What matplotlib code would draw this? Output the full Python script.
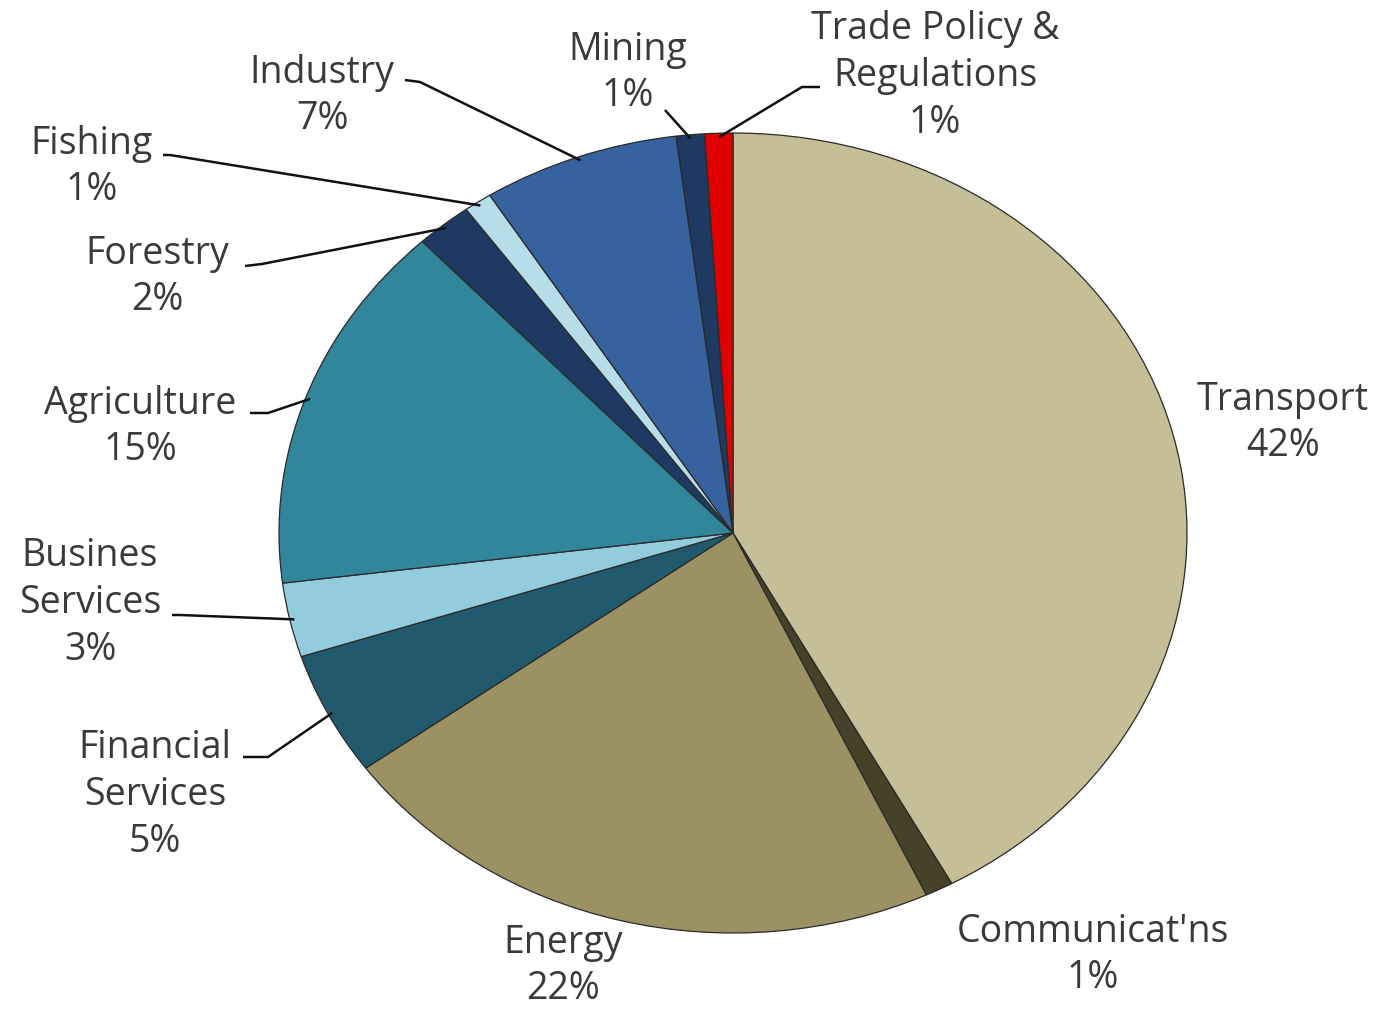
import numpy as np
import matplotlib.pyplot as plt

# sector shares, clockwise from 12 o'clock
sectors = ["Transport", "Communicat'ns", "Energy", "Financial\nServices",
           "Busines\nServices", "Agriculture", "Forestry", "Fishing",
           "Industry", "Mining", "Trade Policy &\nRegulations"]
shares = [42, 1, 22, 5, 3, 15, 2, 1, 7, 1, 1]
colors = ["#C6BE97", "#48412A", "#9B9163", "#215A6C", "#93CDDD", "#31869C",
          "#1F3A62", "#B7DEE8", "#3762A0", "#1F3A62", "#E00000"]

# label centres (pixels) and leader-line elbows (None = no leader)
W, H = 1381, 1016
CX, CY, RX, RY = 733, 533, 454, 400
label_pos = [(1283, 423), (1093, 955), (563, 966), (155, 795), (90, 603),
             (140, 427), (157, 277), (92, 167), (322, 96), (628, 73),
             (935, 76)]
leader_start = [None, None, None, (243, 757), (172, 615), (250, 413),
                (245, 266), (163, 155), (405, 80), (665, 110), (820, 87)]
leader_elbow = [None, None, None, (268, 757), (180, 615), (268, 413),
                (262, 264), (170, 155), (420, 82), (665, 110), (802, 87)]


def px(x, y):
    return (x - CX) / RX, (CY - y) / RY


fig = plt.figure(figsize=(W / 100, H / 100), dpi=100)
ax = fig.add_axes([0, 0, 1, 1])

wedges, _ = ax.pie(shares, colors=colors, startangle=90, counterclock=False,
                   radius=1, wedgeprops=dict(edgecolor="#2a2a2a", linewidth=0.9))

ax.set_aspect("auto")
ax.set_xlim(-CX / RX, (W - CX) / RX)
ax.set_ylim(-(H - CY) / RY, CY / RY)
ax.axis("off")

for i, w in enumerate(wedges):
    txt = f"{sectors[i]}\n{shares[i]}%"
    lx, ly = px(*label_pos[i])
    ax.text(lx, ly, txt, ha="center", va="center", fontsize=27,
            family="Open Sans", color="#3a3a3a", linespacing=1.3)
    if leader_start[i] is None:
        continue
    mid = np.deg2rad((w.theta1 + w.theta2) / 2)
    ex, ey = np.cos(mid) * 0.99, np.sin(mid) * 0.99
    sx, sy = px(*leader_start[i])
    bx, by = px(*leader_elbow[i])
    ax.plot([sx, bx, ex], [sy, by, ey], color="#111111", lw=1.8,
            solid_capstyle="butt", zorder=3)

fig.savefig("out.png", dpi=100, facecolor="white")
